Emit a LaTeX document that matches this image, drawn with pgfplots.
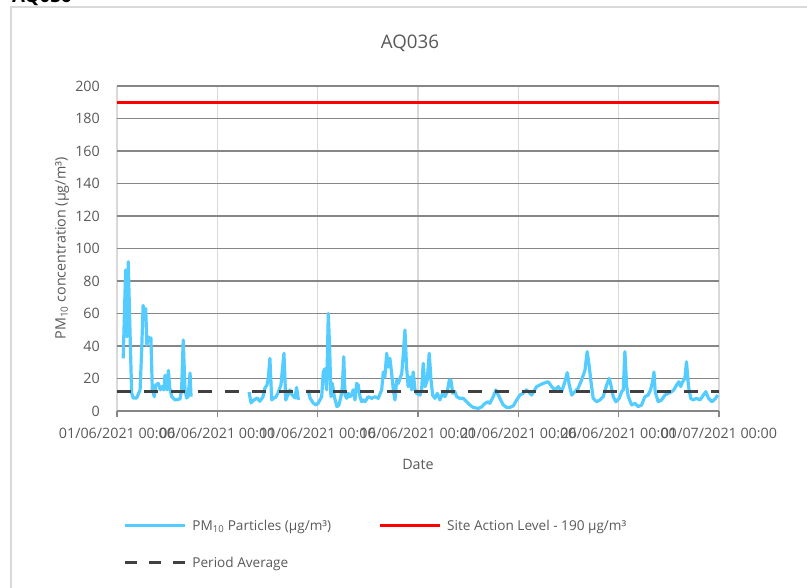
\documentclass[border=0pt]{standalone}
\usepackage{fontspec}
\setmainfont{Open Sans}
\usepackage{pgfplots}
\pgfplotsset{compat=1.18}
\definecolor{txt}{HTML}{595959}
\definecolor{pmc}{HTML}{55CCFF}
\definecolor{hgrid}{HTML}{868686}
\definecolor{vgrid}{HTML}{D9D9D9}
\definecolor{axisc}{HTML}{868686}
\definecolor{avgc}{HTML}{404040}
\definecolor{framec}{HTML}{D9D9D9}
\newcommand{\tickfont}{\fontsize{14.3pt}{17pt}\selectfont}
\newcommand{\legfont}{\fontsize{13.6pt}{16pt}\selectfont}
\begin{document}
\begin{tikzpicture}
\useasboundingbox (0,0) rectangle (807pt,588pt);
\draw[framec, line width=1.5pt] (11pt,-20pt) rectangle (830pt,581pt);
\node[anchor=base west, inner sep=0pt, font=\fontsize{18.7pt}{22pt}\selectfont\bfseries] at (12pt,585.3pt) {AQ036};
\node[anchor=base, inner sep=0pt, text=txt, font=\fontsize{18.7pt}{22pt}\selectfont] at (410pt,539.3pt) {AQ036};
\begin{axis}[
  at={(117pt,177pt)}, anchor=south west,
  width=602pt, height=325pt, scale only axis,
  xmin=0, xmax=30, ymin=0, ymax=200,
  unbounded coords=jump,
  axis x line*=bottom, axis y line*=left,
  x axis line style={-, draw=axisc, line width=1.5pt},
  y axis line style={draw=none},
  xtick={0,5,10,15,20,25,30},
  xticklabels={01/06/2021 00:00,06/06/2021 00:00,11/06/2021 00:00,16/06/2021 00:00,21/06/2021 00:00,26/06/2021 00:00,01/07/2021 00:00},
  ytick={0,20,...,200},
  /pgf/number format/assume math mode=true,
  tick align=outside,
  major tick length=6pt,
  xtick style={draw=axisc, line width=1.5pt},
  ytick style={draw=none},
  xmajorgrids, ymajorgrids,
  x grid style={vgrid, line width=1.6pt},
  y grid style={hgrid, line width=1.4pt},
  ticklabel style={font=\tickfont, text=txt},
  xticklabel style={anchor=base, inner sep=0pt, yshift=-22pt},
  yticklabel style={anchor=east, inner sep=0pt, xshift=-11pt},
  xlabel={Date},
  ylabel={PM\textsubscript{10} concentration (µg/m³)},
  every axis x label/.style={at={(axis description cs:0.5,0)}, anchor=base, yshift=-59pt, font=\tickfont, text=txt},
  every axis y label/.style={at={(axis description cs:-0.0914,0.5)}, anchor=center, rotate=90, font=\tickfont, text=txt},
  legend columns=2,
  legend cell align=left,
  legend style={draw=none, fill=none, at={(axis description cs:0.005,-0.3223)}, anchor=north west,
    font=\legfont, text=txt,
    /tikz/every even column/.append style={column sep=45pt},
    row sep=21pt},
  legend image code/.code={\draw[#1] (0pt,0pt) -- (60pt,0pt); \path (64pt,0pt);},
]
\addplot[pmc, line width=3.2pt, line join=round] table[row sep=\\] {
x y\\
0.31 32.4\\ 0.43 86.8\\ 0.50 45.7\\ 0.56 91.9\\ 0.65 48\\ 0.73 11\\ 0.81 8\\ 0.98 8\\
1.15 13\\ 1.23 37.5\\ 1.30 65\\ 1.36 60\\ 1.43 63\\ 1.49 40.6\\ 1.56 45.7\\ 1.63 43.7\\
1.69 45\\ 1.76 13\\ 1.86 8.8\\ 1.93 16\\ 2.06 17\\ 2.16 13\\ 2.24 15\\ 2.34 13\\
2.39 22\\ 2.49 13\\ 2.56 25\\ 2.63 14\\ 2.73 8.8\\ 2.89 6.8\\ 3.14 7.4\\ 3.22 13\\
3.30 43.7\\ 3.39 13\\ 3.47 8\\ 3.55 9\\ 3.64 23.4\\ 3.69 8.8\\
3.75 nan\\
6.58 11.7\\ 6.68 5\\ 6.83 6.8\\ 6.98 8\\ 7.12 6\\ 7.27 8.6\\ 7.37 14\\ 7.47 16\\
7.54 20\\ 7.62 32.4\\ 7.71 6.8\\ 7.82 8\\ 7.92 8.6\\ 8.02 11\\ 8.17 16\\ 8.32 35.5\\
8.41 6.8\\ 8.52 10\\ 8.62 13\\ 8.72 10\\ 8.87 8\\ 8.95 14.5\\ 9.04 6.8\\
9.10 nan\\
9.52 13\\ 9.62 8\\ 9.77 5\\ 9.92 3.7\\ 10.03 4.9\\ 10.20 8.8\\ 10.28 24\\ 10.36 26\\
10.45 13\\ 10.53 60\\ 10.60 37.5\\ 10.66 8.8\\ 10.73 17\\ 10.83 8.8\\ 10.96 2.7\\ 11.06 3.7\\
11.16 8.8\\ 11.23 15\\ 11.30 33.4\\ 11.36 9.8\\ 11.45 7.8\\ 11.52 10.9\\ 11.61 8.8\\ 11.69 9.8\\
11.77 13\\ 11.86 6.8\\ 11.94 17\\ 12.02 16\\ 12.11 8.8\\ 12.19 5.7\\ 12.27 6.8\\ 12.36 5.7\\
12.52 8.8\\ 12.69 7.8\\ 12.86 8.8\\ 13.02 7.8\\ 13.19 13\\ 13.27 24\\ 13.35 21\\ 13.44 35.5\\
13.52 27\\ 13.60 32.4\\ 13.69 23\\ 13.77 13\\ 13.85 6.8\\ 13.94 19\\ 14.02 17\\ 14.10 20\\
14.19 23\\ 14.27 35.5\\ 14.35 49.8\\ 14.43 27\\ 14.51 15\\ 14.60 21\\ 14.68 13\\ 14.76 24\\
14.85 13\\ 14.93 10.9\\ 15.10 9.8\\ 15.18 13\\ 15.26 29.3\\ 15.35 15\\ 15.46 19\\ 15.56 35.5\\
15.65 19\\ 15.73 9.8\\ 15.84 7.8\\ 15.96 10.9\\ 16.09 6.8\\ 16.23 10.9\\ 16.34 8.8\\ 16.46 11.9\\
16.56 19\\ 16.64 19\\ 16.73 10.9\\ 16.84 11.9\\ 16.93 8.8\\ 17.09 7.8\\ 17.25 7.8\\ 17.42 5.7\\
17.59 3.7\\ 17.75 2.2\\ 18.00 1.6\\ 18.17 2.5\\ 18.34 4.7\\ 18.50 5.7\\ 18.58 4.7\\ 18.75 8.8\\
18.88 13\\ 19.00 9.8\\ 19.12 6.8\\ 19.25 3.7\\ 19.42 2.2\\ 19.58 2.2\\ 19.75 3.2\\ 19.92 6.8\\
20.08 9.8\\ 20.24 10.9\\ 20.41 13\\ 20.66 9.8\\ 20.91 15\\ 21.24 17\\ 21.49 18\\ 21.66 15\\
21.82 13\\ 21.99 15\\ 22.16 11.9\\ 22.32 18\\ 22.44 23.6\\ 22.54 16\\ 22.66 9.8\\ 22.82 11.9\\
22.98 14\\ 23.15 19\\ 23.32 25\\ 23.43 36.5\\ 23.53 28\\ 23.60 20\\ 23.73 7.8\\ 23.90 5.7\\
24.07 6.8\\ 24.23 8.8\\ 24.40 16\\ 24.53 20\\ 24.63 15\\ 24.73 8.8\\ 24.86 5.7\\ 25.03 7.8\\
25.15 11.9\\ 25.23 13\\ 25.31 36.5\\ 25.40 15\\ 25.48 8.8\\ 25.65 3.7\\ 25.81 4.7\\ 25.97 2.7\\
26.14 3.7\\ 26.31 8.8\\ 26.47 9.8\\ 26.59 13\\ 26.69 18\\ 26.76 24\\ 26.82 11.9\\ 26.97 5.7\\
27.14 6.8\\ 27.31 9.8\\ 27.47 10.9\\ 27.64 11.9\\ 27.75 13\\ 27.89 16\\ 28.00 18\\ 28.09 15\\
28.19 18\\ 28.30 20\\ 28.38 30.3\\ 28.48 15\\ 28.59 7.8\\ 28.71 6.8\\ 28.88 7.8\\ 29.05 6.8\\
29.17 8.8\\ 29.34 11.9\\ 29.48 7.8\\ 29.65 5.7\\ 29.83 7.8\\ 29.94 9.8\\
};
\addlegendentry{PM\textsubscript{10} Particles (µg/m³)}
\addplot[red, line width=3pt] coordinates {(0,190) (30,190)};
\addlegendentry{Site Action Level - 190 µg/m³}
\addplot[avgc, line width=3pt, dash pattern=on 14pt off 13pt,
  legend image code/.code={\draw[avgc, line width=3pt, dash pattern=on 12pt off 12pt] (0pt,0pt) -- (60pt,0pt); \path (64pt,0pt);}]
  coordinates {(0,12.3) (30,12.3)};
\addlegendentry{Period Average}
\end{axis}
\end{tikzpicture}
\end{document}
